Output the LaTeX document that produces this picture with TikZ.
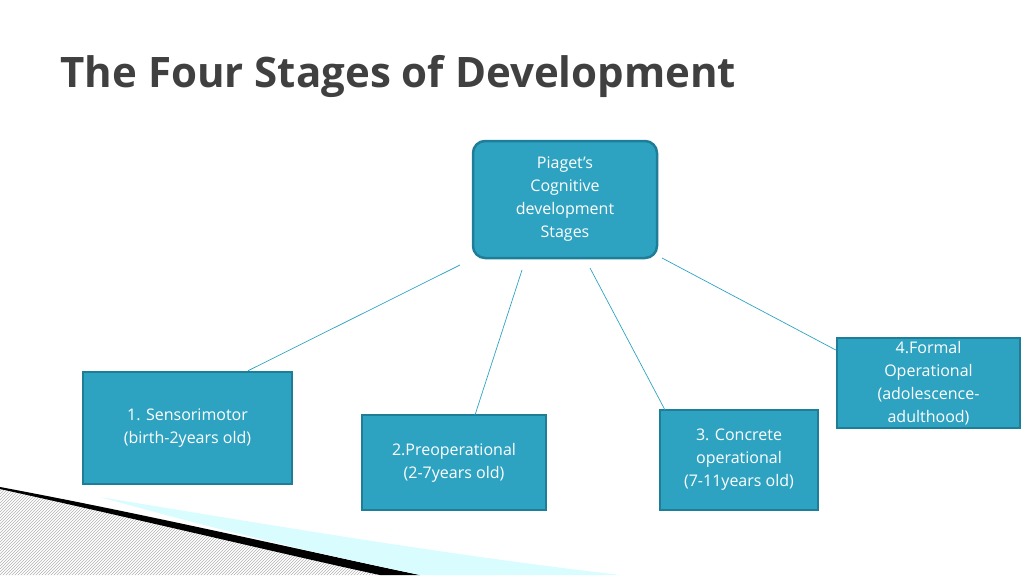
\documentclass[tikz,border=0pt]{standalone}
\usepackage{fontspec}
\setmainfont{Open Sans}
\usetikzlibrary{patterns}
\definecolor{stagefill}{HTML}{2EA3C1}
\definecolor{stagedraw}{HTML}{1E7E98}
\definecolor{titlegray}{HTML}{404040}
\tikzset{
    stage/.style={rectangle, draw=stagedraw, line width=2.5pt, fill=stagefill, text=white, align=center, font=\fontsize{16}{23}\selectfont},
    link/.style={draw=stagefill, line width=0.7pt}
}
\begin{document}
\begin{tikzpicture}[x=1pt, y=-1pt]
    \useasboundingbox (0,0) rectangle (1024,575);
    % Bottom decoration
    \fill[pattern=north east lines, pattern color=gray!60] (0,487) .. controls (150,520) and (300,555) .. (390,575) -- (0,575) -- cycle;
    \fill[black] (0,487) .. controls (150,515) and (300,550) .. (420,575) -- (380,575) .. controls (300,558) and (150,522) .. (0,489) -- cycle;
    \fill[blue!8!cyan!15] (100,497) .. controls (300,530) and (450,555) .. (620,575) -- (420,575) .. controls (300,550) and (200,525) .. (100,497) -- cycle;
    % Title
    \node (title) [anchor=base west, text=titlegray, font=\fontsize{42}{48}\selectfont\bfseries] at (57,88) {The Four Stages of Development};
    % Nodes
    \node (root) [stage, rounded corners=12pt, minimum width=184pt, minimum height=117pt] at (565,199.5) {Piaget’s\\Cognitive\\development\\Stages};
    \node (sensor) [stage, minimum width=209pt, minimum height=112pt] at (187.5,428) {1. Sensorimotor\\(birth-2years old)};
    \node (preop) [stage, minimum width=184pt, minimum height=95pt] at (454,462.5) {2.Preoperational\\(2-7years old)};
    \node (concrete) [stage, minimum width=158pt, minimum height=100pt] at (739,460) {3. Concrete\\operational\\(7-11years old)};
    \node (formal) [stage, minimum width=183pt, minimum height=90pt] at (928.5,383) {4.Formal\\Operational\\(adolescence-\\adulthood)};
    % Connector ends
    \coordinate (r1) at (460,265);
    \coordinate (r2) at (522,270);
    \coordinate (r3) at (590,268);
    \coordinate (r4) at (662,258);
    % Connectors
    \draw [link] (r1) -- (sensor.north -| 248,0);
    \draw [link] (r2) -- (475,415);
    \draw [link] (r3) -- (665,410);
    \draw [link] (r4) -- (formal.west |- 0,350);
\end{tikzpicture}
\end{document}
